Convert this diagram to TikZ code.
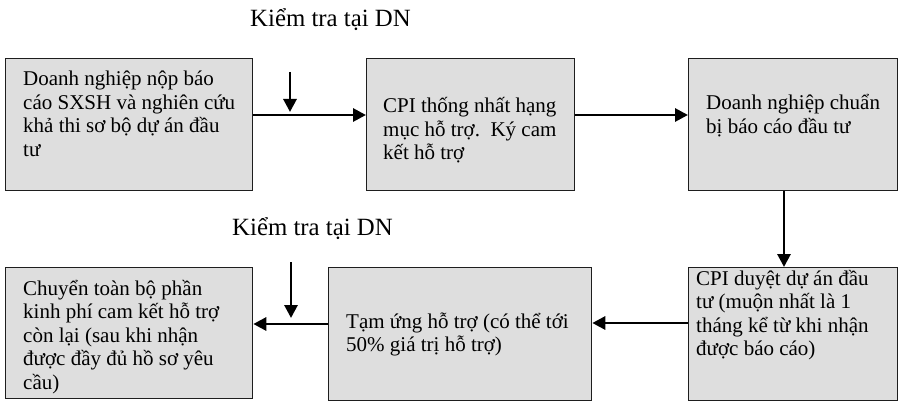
\documentclass[tikz,border=0pt]{standalone}
\usepackage{fontspec}
\setmainfont{Liberation Serif}
\usetikzlibrary{arrows.meta,calc}
\definecolor{boxfill}{RGB}{222,222,222}
\definecolor{boxline}{RGB}{30,30,30}
\newcommand{\ptext}[2]{\parbox[t]{#1}{\raggedright #2}}
\begin{document}
\begin{tikzpicture}[x=1pt,y=-1pt,
  box/.style={draw=boxline, line width=1.3pt, fill=boxfill, rectangle, inner sep=0pt, anchor=north west},
  txt/.style={inner sep=0pt, anchor=base west, font=\fontsize{21}{23.5}\selectfont},
  lbl/.style={inner sep=0pt, anchor=base west, font=\fontsize{24.8}{28}\selectfont},
  arr/.style={line width=2.9pt, -{Triangle[length=13pt,width=13pt]}}]
\useasboundingbox (0,0) rectangle (900,401);

% boxes
\node[box, minimum width=247pt, minimum height=132pt] (b1) at (5,58) {};
\node[box, minimum width=208pt, minimum height=132pt] (b2) at (366,58) {};
\node[box, minimum width=209pt, minimum height=132pt] (b3) at (688,58) {};
\node[box, minimum width=209pt, minimum height=133pt] (b4) at (688,267) {};
\node[box, minimum width=263pt, minimum height=133pt] (b5) at (328,267) {};
\node[box, minimum width=247pt, minimum height=131pt] (b6) at (5,267) {};

% texts
\node[txt] (t1) at (23,86) {\ptext{240pt}{Doanh nghiệp nộp báo\\cáo SXSH và nghiên cứu\\khả thi sơ bộ dự án đầu\\tư}};
\node[txt] (t2) at (383,113) {\ptext{200pt}{CPI thống nhất hạng\\mục hỗ trợ.\ \ Ký cam\\kết hỗ trợ}};
\node[txt] (t3) at (706,110) {\ptext{200pt}{Doanh nghiệp chuẩn\\bị báo cáo đầu tư}};
\node[txt] (t4) at (696,285) {\ptext{200pt}{CPI duyệt dự án đầu\\tư (muộn nhất là 1\\tháng kể từ khi nhận\\được báo cáo)}};
\node[txt] (t5) at (346,328) {\ptext{260pt}{Tạm ứng hỗ trợ (có thể tới\\50\% giá trị hỗ trợ)}};
\node[txt] (t6) at (23,295) {\ptext{240pt}{Chuyển toàn bộ phần\\kinh phí cam kết hỗ trợ\\còn lại (sau khi nhận\\được đầy đủ hồ sơ yêu\\cầu)}};

% labels
\node[lbl] (l1) at (250,27) {Kiểm tra tại DN};
\node[lbl] (l2) at (232,235) {Kiểm tra tại DN};

% connectors
\draw[arr] (b1.east |- 0,115) -- (b2.west |- 0,115);
\draw[arr] (b2.east |- 0,115) -- (b3.west |- 0,115);
\draw[arr] (b3.south -| 784,0) -- (b4.north -| 784,0);
\draw[arr] (b4.west |- 0,323) -- (b5.east |- 0,323);
\draw[arr] (b5.west |- 0,324) -- (b6.east |- 0,324);

% inspection arrows
\coordinate (k1a) at (290,72);
\coordinate (k1b) at (290,112);
\coordinate (k2a) at (291,262);
\coordinate (k2b) at (291,318);
\draw[arr] (k1a) -- (k1b);
\draw[arr] (k2a) -- (k2b);
\end{tikzpicture}
\end{document}
